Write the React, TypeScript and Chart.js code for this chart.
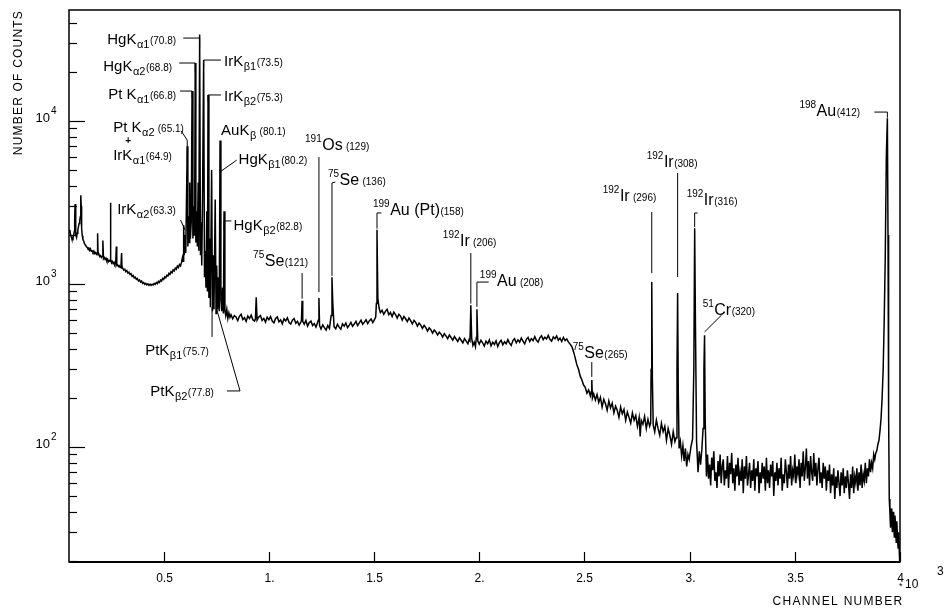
import React, { useEffect, useRef } from "react";
import { Chart, registerables } from "chart.js";

Chart.register(...registerables);

const FONT = '"Liberation Sans", Arial, Helvetica, sans-serif';

// Spectrum: [channel (x10^3), counts]
const lowEnergySpectrum: [number, number][] = [
  [0.050, 2080], [0.054, 2150], [0.057, 2020], [0.060, 1960], [0.063, 1900], [0.066, 1870], [0.069, 1920],
  [0.072, 1980], [0.075, 2100], [0.077, 2500], [0.079, 3100], [0.081, 2300], [0.083, 2000], [0.086, 1930],
  [0.089, 2050], [0.092, 2150], [0.095, 2250], [0.098, 2350], [0.101, 2450], [0.104, 2600], [0.106, 3500],
  [0.108, 3000], [0.110, 2200], [0.113, 1980], [0.116, 1880], [0.120, 1830], [0.124, 1760], [0.128, 1735],
  [0.132, 1700], [0.136, 1680], [0.140, 1650], [0.144, 1665], [0.148, 1610], [0.152, 1645], [0.156, 1590],
  [0.160, 1600], [0.164, 1565], [0.168, 1595], [0.172, 1540], [0.176, 1560], [0.180, 1525], [0.184, 1555],
  [0.186, 2050], [0.188, 1510], [0.192, 1525], [0.196, 1475], [0.200, 1495], [0.204, 1455], [0.208, 1480],
  [0.211, 1850], [0.214, 1430], [0.218, 1455], [0.222, 1415], [0.226, 1440], [0.230, 1390], [0.234, 1415],
  [0.238, 1375], [0.242, 1395], [0.245, 1380], [0.247, 3150], [0.249, 1420], [0.252, 1350], [0.256, 1375],
  [0.260, 1335], [0.264, 1360], [0.268, 1315], [0.272, 1340], [0.275, 1700], [0.277, 1300], [0.281, 1310],
  [0.285, 1280], [0.289, 1295], [0.293, 1262], [0.297, 1285], [0.300, 1550], [0.302, 1250], [0.305, 1255],
  [0.310, 1218], [0.315, 1232], [0.320, 1192], [0.325, 1210], [0.330, 1168], [0.335, 1182], [0.340, 1145],
  [0.345, 1158], [0.350, 1112], [0.355, 1128], [0.360, 1090], [0.365, 1102], [0.370, 1068], [0.375, 1082],
  [0.380, 1044], [0.385, 1058], [0.390, 1028], [0.395, 1042], [0.400, 1008], [0.405, 1022], [0.410, 996],
  [0.415, 1010], [0.420, 988], [0.425, 1003], [0.430, 982], [0.435, 998], [0.440, 980], [0.445, 996],
  [0.450, 987], [0.455, 1008], [0.460, 996], [0.465, 1022], [0.470, 1006], [0.475, 1038], [0.480, 1022],
  [0.485, 1058], [0.490, 1042], [0.495, 1082], [0.500, 1066], [0.505, 1108], [0.510, 1092], [0.515, 1132],
  [0.520, 1118], [0.525, 1162], [0.530, 1146], [0.535, 1192], [0.540, 1172], [0.545, 1222], [0.550, 1202],
  [0.555, 1252], [0.560, 1232], [0.565, 1288], [0.570, 1262], [0.575, 1318], [0.580, 1292], [0.585, 1360],
];

const xRaySpectrum: [number, number][] = [
  [0.589, 1450], [0.592, 1380], [0.595, 2300], [0.598, 1500], [0.602, 2000], [0.605, 1550], [0.608, 3000],
  [0.612, 7000], [0.615, 1700], [0.618, 2600], [0.621, 1800], [0.624, 4200], [0.627, 1900], [0.631, 2400],
  [0.635, 15300], [0.639, 1900], [0.642, 3000], [0.645, 2000], [0.648, 4800], [0.650, 22700], [0.653, 1800],
  [0.657, 2800], [0.660, 1700], [0.664, 4200], [0.667, 1600], [0.671, 34000], [0.675, 1500], [0.678, 2400],
  [0.681, 1300], [0.685, 3600], [0.690, 23700], [0.694, 1100], [0.698, 1600], [0.701, 950], [0.705, 2800],
  [0.708, 900], [0.711, 14450], [0.715, 820], [0.719, 1900], [0.722, 720], [0.728, 5000], [0.732, 680],
  [0.736, 1500], [0.739, 700], [0.745, 3300], [0.749, 660], [0.752, 1300], [0.756, 700], [0.760, 1100],
  [0.764, 680], [0.768, 7600], [0.772, 800], [0.776, 680], [0.780, 950], [0.784, 660], [0.787, 2800],
  [0.791, 690], [0.795, 640], [0.800, 700], [0.805, 615], [0.810, 665], [0.815, 625],
];

const midSpectrum: [number, number][] = [
  [0.820, 648], [0.828, 612], [0.836, 640], [0.844, 628], [0.852, 596], [0.860, 634], [0.868, 652],
  [0.876, 606], [0.884, 622], [0.892, 590], [0.900, 636], [0.908, 614], [0.916, 644], [0.924, 604],
  [0.932, 592], [0.936, 610], [0.940, 830], [0.944, 600], [0.952, 628], [0.960, 640], [0.968, 598],
  [0.976, 616], [0.984, 584], [0.992, 626], [1.000, 604], [1.008, 632], [1.016, 592], [1.024, 578],
  [1.032, 614], [1.040, 628], [1.048, 586], [1.056, 602], [1.064, 570], [1.072, 612], [1.080, 594],
  [1.088, 620], [1.096, 580], [1.104, 568], [1.112, 600], [1.120, 614], [1.128, 574], [1.136, 590],
  [1.144, 560], [1.152, 584], [1.155, 600], [1.158, 790], [1.161, 590], [1.168, 566], [1.176, 598],
  [1.184, 552], [1.192, 580], [1.200, 592], [1.208, 556], [1.216, 572], [1.224, 544], [1.232, 582],
  [1.235, 600], [1.238, 820], [1.241, 556], [1.248, 530], [1.256, 562], [1.264, 540], [1.272, 522],
  [1.280, 556], [1.288, 534], [1.296, 640], [1.300, 1100], [1.304, 760], [1.310, 548], [1.318, 532],
  [1.326, 566], [1.334, 544], [1.342, 528], [1.350, 570], [1.358, 552], [1.366, 576], [1.374, 540],
  [1.382, 560], [1.390, 582], [1.398, 550], [1.406, 568], [1.414, 590], [1.422, 556], [1.430, 578],
  [1.438, 600], [1.446, 566], [1.454, 584], [1.462, 604], [1.470, 572], [1.478, 596], [1.486, 610],
  [1.494, 580], [1.502, 604], [1.508, 630], [1.511, 760], [1.514, 2150], [1.518, 820], [1.524, 712],
  [1.530, 668],
];

const plateauSpectrum: [number, number][] = [
  [1.538, 690], [1.546, 652], [1.554, 680], [1.562, 700], [1.570, 648], [1.578, 668], [1.586, 632],
  [1.594, 672], [1.602, 650], [1.610, 618], [1.618, 652], [1.626, 636], [1.634, 600], [1.642, 632],
  [1.650, 612], [1.658, 588], [1.666, 618], [1.674, 596], [1.682, 570], [1.690, 598], [1.698, 582],
  [1.706, 552], [1.714, 576], [1.722, 560], [1.730, 534], [1.738, 558], [1.746, 540], [1.754, 514],
  [1.762, 538], [1.770, 524], [1.778, 500], [1.786, 522], [1.794, 508], [1.802, 486], [1.810, 506],
  [1.818, 494], [1.826, 472], [1.834, 496], [1.842, 480], [1.850, 462], [1.858, 486], [1.866, 470],
  [1.874, 452], [1.882, 476], [1.890, 460], [1.898, 444], [1.906, 468], [1.914, 452], [1.922, 436],
  [1.930, 462], [1.938, 446], [1.946, 430], [1.952, 456], [1.956, 448], [1.960, 740], [1.964, 466],
  [1.970, 420], [1.976, 440], [1.982, 412], [1.986, 470], [1.989, 700], [1.993, 448], [2.000, 428],
  [2.008, 452], [2.016, 436], [2.024, 416], [2.032, 446], [2.040, 430], [2.048, 454], [2.056, 418],
  [2.064, 440], [2.072, 426], [2.080, 448], [2.088, 414], [2.096, 438], [2.104, 452], [2.112, 424],
  [2.120, 442], [2.128, 430], [2.136, 456], [2.144, 434], [2.152, 420], [2.160, 450], [2.168, 462],
  [2.176, 436], [2.184, 454], [2.192, 440], [2.200, 466], [2.208, 446], [2.216, 430], [2.224, 458],
  [2.232, 470], [2.240, 444], [2.248, 462], [2.256, 450], [2.264, 476], [2.272, 452], [2.280, 440],
  [2.288, 468], [2.296, 482], [2.304, 456], [2.312, 472], [2.320, 460], [2.328, 484], [2.336, 458],
  [2.344, 446], [2.352, 474], [2.360, 462], [2.368, 480], [2.376, 452], [2.384, 466], [2.392, 444],
  [2.400, 470], [2.408, 450], [2.416, 460], [2.424, 440], [2.432, 428],
];

const highSpectrum: [number, number][] = [
  [2.440, 414], [2.448, 386], [2.456, 352], [2.464, 320], [2.472, 300], [2.480, 272], [2.488, 258],
  [2.496, 240], [2.504, 232], [2.512, 214], [2.520, 224], [2.528, 206], [2.532, 218], [2.535, 258],
  [2.538, 200], [2.544, 212], [2.552, 194], [2.560, 210], [2.568, 188], [2.576, 202], [2.584, 176],
  [2.592, 196], [2.600, 184], [2.608, 168], [2.616, 192], [2.624, 174], [2.632, 186], [2.640, 162],
  [2.648, 178], [2.656, 168], [2.664, 152], [2.672, 176], [2.680, 160], [2.688, 170], [2.696, 146],
  [2.704, 164], [2.712, 152], [2.720, 140], [2.728, 162], [2.736, 146], [2.744, 156], [2.752, 134],
  [2.760, 152], [2.765, 116], [2.770, 146], [2.778, 138], [2.786, 154], [2.794, 130], [2.802, 148],
  [2.810, 134], [2.815, 140], [2.817, 300], [2.820, 1030], [2.823, 260], [2.827, 136], [2.834, 124],
  [2.842, 146], [2.850, 130], [2.858, 118], [2.866, 140], [2.874, 124], [2.882, 134], [2.890, 110],
  [2.898, 130], [2.906, 118], [2.914, 104], [2.922, 124], [2.930, 108], [2.936, 114], [2.940, 300],
  [2.943, 880], [2.946, 220], [2.950, 98], [2.956, 108], [2.962, 88], [2.968, 102], [2.974, 82],
  [2.980, 98], [2.986, 76], [2.992, 90], [2.998, 84], [3.006, 100], [3.014, 112], [3.020, 300],
  [3.024, 2200], [3.028, 520], [3.033, 108], [3.040, 70], [3.046, 94], [3.052, 78], [3.058, 96],
  [3.064, 130], [3.068, 300], [3.071, 485], [3.074, 150], [3.080, 66],
];

const tailSpectrum: [number, number][] = [
  [3.085, 90], [3.090, 64], [3.095, 78], [3.100, 58], [3.105, 86], [3.110, 72], [3.115, 94], [3.120, 62],
  [3.125, 70], [3.130, 56], [3.135, 82], [3.140, 66], [3.145, 90], [3.150, 60], [3.155, 76], [3.160, 84],
  [3.165, 58], [3.170, 72], [3.175, 64], [3.180, 88], [3.185, 56], [3.190, 80], [3.195, 68], [3.200, 92],
  [3.205, 60], [3.210, 74], [3.215, 54], [3.220, 78], [3.225, 66], [3.230, 86], [3.235, 58], [3.240, 70],
  [3.245, 62], [3.250, 84], [3.255, 52], [3.260, 76], [3.265, 64], [3.270, 88], [3.275, 58], [3.280, 68],
  [3.285, 80], [3.290, 56], [3.295, 72], [3.300, 62], [3.305, 84], [3.310, 54], [3.315, 74], [3.320, 66],
  [3.325, 82], [3.330, 52], [3.335, 70], [3.340, 60], [3.345, 80], [3.350, 64], [3.355, 76], [3.360, 54],
  [3.365, 86], [3.370, 60], [3.375, 72], [3.380, 56], [3.385, 78], [3.390, 66], [3.395, 82], [3.400, 50],
  [3.405, 70], [3.410, 62], [3.415, 80], [3.420, 58], [3.425, 74], [3.430, 64], [3.435, 86], [3.440, 54],
  [3.445, 68], [3.450, 60], [3.455, 84], [3.460, 70], [3.465, 56], [3.470, 78], [3.475, 64], [3.480, 88],
  [3.485, 58], [3.490, 72], [3.495, 66], [3.500, 90], [3.505, 60], [3.510, 76], [3.515, 68], [3.520, 84],
  [3.525, 56], [3.530, 80], [3.535, 66], [3.540, 94], [3.545, 62], [3.550, 74], [3.555, 98], [3.560, 64],
  [3.565, 82], [3.570, 58], [3.575, 88], [3.580, 70], [3.585, 62], [3.590, 92], [3.595, 66], [3.600, 80],
  [3.605, 58], [3.610, 74], [3.615, 86], [3.620, 60], [3.625, 70], [3.630, 56], [3.635, 80], [3.640, 64],
  [3.645, 76], [3.650, 54], [3.655, 72], [3.660, 62], [3.665, 78], [3.670, 52], [3.675, 68], [3.680, 58],
  [3.685, 74], [3.690, 48], [3.695, 66], [3.700, 56], [3.705, 72], [3.710, 60], [3.715, 50], [3.720, 70],
  [3.725, 58], [3.730, 74], [3.735, 52], [3.740, 66], [3.745, 56], [3.750, 72], [3.755, 60], [3.760, 48],
  [3.765, 68], [3.770, 56], [3.775, 76], [3.780, 52], [3.785, 66], [3.790, 60], [3.795, 74], [3.800, 54],
  [3.805, 70], [3.810, 58], [3.815, 78], [3.820, 56], [3.825, 68], [3.830, 62], [3.835, 80], [3.840, 60],
  [3.845, 74], [3.850, 66], [3.855, 84], [3.860, 70], [3.865, 80], [3.870, 74], [3.875, 90], [3.880, 84],
  [3.885, 92], [3.890, 95], [3.895, 104], [3.900, 110], [3.905, 126], [3.910, 150], [3.915, 200],
  [3.920, 300], [3.925, 600], [3.930, 1500], [3.935, 6000], [3.940, 10400], [3.943, 2000], [3.946, 150],
  [3.949, 48], [3.952, 40], [3.955, 32], [3.958, 42], [3.961, 36], [3.964, 30], [3.967, 40], [3.970, 34],
  [3.973, 28], [3.976, 38], [3.979, 33], [3.982, 26], [3.985, 35], [3.988, 28], [3.991, 24], [3.994, 30],
  [3.997, 22], [4.000, 18],
];

const spectrum: [number, number][] = [
  ...lowEnergySpectrum, ...xRaySpectrum, ...midSpectrum, ...plateauSpectrum, ...highSpectrum, ...tailSpectrum,
];

const xTickValues = [0.5, 1, 1.5, 2, 2.5, 3, 3.5, 4];
const xTickLabels = ["0.5", "1.", "1.5", "2.", "2.5", "3.", "3.5", "4"];
const yDecadeValues = [100, 1000, 10000];
const yDecadeExponents = ["2", "3", "4"];

type Part = [string, "n" | "big" | "sub" | "sup" | "num"];
type Label = { parts: Part[]; at: [number, number]; leader?: [number, number][] };

// positions: [channel (x10^3), log10(counts)]
const peakLabels: Label[] = [
  { parts: [["HgK", "n"], ["α1", "sub"], ["(70.8)", "num"]], at: [0.232, 4.472], leader: [[0.593, 4.509], [0.671, 4.509], [0.671, 4.45]] },
  { parts: [["HgK", "n"], ["α2", "sub"], ["(68.8)", "num"]], at: [0.213, 4.307], leader: [[0.574, 4.356], [0.650, 4.356], [0.650, 4.3]] },
  { parts: [["Pt K", "n"], ["α1", "sub"], ["(66.8)", "num"]], at: [0.236, 4.135], leader: [[0.578, 4.184], [0.635, 4.184], [0.635, 4.14]] },
  { parts: [["Pt K", "n"], ["α2", "sub"], [" (65.1)", "num"]], at: [0.26, 3.933], leader: [[0.583, 3.94], [0.612, 3.883], [0.612, 3.75]] },
  { parts: [["IrK", "n"], ["α1", "sub"], ["(64.9)", "num"]], at: [0.26, 3.761] },
  { parts: [["IrK", "n"], ["β1", "sub"], ["(73.5)", "num"]], at: [0.787, 4.337], leader: [[0.772, 4.374], [0.690, 4.374], [0.690, 4.33]] },
  { parts: [["IrK", "n"], ["β2", "sub"], ["(75.3)", "num"]], at: [0.787, 4.123], leader: [[0.772, 4.16], [0.711, 4.16], [0.711, 4.12]] },
  { parts: [["AuK", "n"], ["β", "sub"], [" (80.1)", "num"]], at: [0.773, 3.914] },
  { parts: [["HgK", "n"], ["β1", "sub"], ["(80.2)", "num"]], at: [0.856, 3.736], leader: [[0.847, 3.76], [0.770, 3.69]] },
  { parts: [["HgK", "n"], ["β2", "sub"], ["(82.8)", "num"]], at: [0.832, 3.331], leader: [[0.822, 3.387], [0.787, 3.387], [0.787, 3.33]] },
  { parts: [["IrK", "n"], ["α2", "sub"], ["(63.3)", "num"]], at: [0.279, 3.429], leader: [[0.580, 3.393], [0.602, 3.331]] },
  { parts: [["PtK", "n"], ["β1", "sub"], ["(75.7)", "num"]], at: [0.412, 2.564], leader: [[0.730, 2.859], [0.730, 2.675]] },
  { parts: [["PtK", "n"], ["β2", "sub"], ["(77.8)", "num"]], at: [0.436, 2.313], leader: [[0.801, 2.344], [0.863, 2.344], [0.749, 2.859]] },
  { parts: [["75", "sup"], ["Se", "big"], ["(121)", "num"]], at: [0.925, 3.11], leader: [[1.158, 3.067], [1.158, 2.91]] },
  { parts: [["191", "sup"], ["Os", "big"], [" (129)", "num"]], at: [1.172, 3.822], leader: [[1.238, 3.779], [1.238, 2.95]] },
  { parts: [["75", "sup"], ["Se", "big"], [" (136)", "num"]], at: [1.281, 3.607], leader: [[1.316, 3.626], [1.300, 3.62], [1.300, 3.05]] },
  { parts: [["199", "sup"], ["Au (Pt)", "big"], ["(158)", "num"]], at: [1.495, 3.423], leader: [[1.535, 3.436], [1.514, 3.436], [1.514, 3.34]] },
  { parts: [["192", "sup"], ["Ir", "big"], [" (206)", "num"]], at: [1.827, 3.233], leader: [[1.960, 3.19], [1.960, 2.88]] },
  { parts: [["199", "sup"], ["Au", "big"], [" (208)", "num"]], at: [2.003, 2.988], leader: [[2.045, 3.012], [1.989, 3.012], [1.989, 2.86]] },
  { parts: [["75", "sup"], ["Se", "big"], ["(265)", "num"]], at: [2.444, 2.546], leader: [[2.535, 2.521], [2.535, 2.43]] },
  { parts: [["192", "sup"], ["Ir", "big"], [" (296)", "num"]], at: [2.587, 3.509], leader: [[2.820, 3.442], [2.820, 3.067]] },
  { parts: [["192", "sup"], ["Ir", "big"], ["(308)", "num"]], at: [2.796, 3.718], leader: [[2.943, 3.681], [2.943, 3.043]] },
  { parts: [["192", "sup"], ["Ir", "big"], ["(316)", "num"]], at: [2.986, 3.485], leader: [[3.038, 3.436], [3.024, 3.436], [3.024, 3.35]] },
  { parts: [["51", "sup"], ["Cr", "big"], ["(320)", "num"]], at: [3.062, 2.81], leader: [[3.152, 2.81], [3.071, 2.706]] },
  { parts: [["198", "sup"], ["Au", "big"], ["(412)", "num"]], at: [3.522, 4.031], leader: [[3.878, 4.055], [3.940, 4.055], [3.940, 4.02]] },
];

const plusMark: [number, number] = [0.331, 3.86];

const STYLE: Record<string, { size: number; dy: number }> = {
  n: { size: 15, dy: 0 },
  big: { size: 16, dy: 0 },
  sub: { size: 11, dy: 4 },
  sup: { size: 10, dy: -8 },
  num: { size: 10, dy: 0 },
};

const decor = {
  id: "decor",
  afterDraw(chart: any) {
    const { ctx, chartArea: a, scales } = chart;
    const xs = scales.x;
    const ys = scales.y;
    const px = (v: number) => xs.getPixelForValue(v);
    const py = (lv: number) => ys.getPixelForValue(Math.pow(10, lv));
    ctx.save();
    ctx.strokeStyle = "#000";
    ctx.fillStyle = "#000";
    // frame
    ctx.lineWidth = 1.5;
    ctx.strokeRect(a.left, a.top, a.right - a.left, a.bottom - a.top);
    ctx.lineWidth = 2;
    ctx.beginPath();
    ctx.moveTo(a.left, a.bottom);
    ctx.lineTo(a.right, a.bottom);
    ctx.stroke();
    // y ticks
    ctx.lineWidth = 1.2;
    for (let e = 1; e <= 4; e++) {
      for (let m = 1; m <= 9; m++) {
        const v = m * Math.pow(10, e);
        if (v < ys.min || v > ys.max) continue;
        const y = Math.round(ys.getPixelForValue(v)) + 0.5;
        ctx.beginPath();
        ctx.moveTo(a.left, y);
        ctx.lineTo(a.left + (m === 1 ? 16 : 8), y);
        ctx.stroke();
      }
    }
    // y labels
    ctx.textBaseline = "alphabetic";
    yDecadeValues.forEach((v, i) => {
      const y = ys.getPixelForValue(v);
      ctx.font = `13px ${FONT}`;
      ctx.textAlign = "right";
      ctx.fillText("10", 50, y + 1);
      ctx.font = `10px ${FONT}`;
      ctx.textAlign = "left";
      ctx.fillText(yDecadeExponents[i], 51, y - 7);
    });
    // x ticks and labels
    xTickValues.forEach((v, i) => {
      const x = Math.round(px(v)) + 0.5;
      ctx.beginPath();
      ctx.moveTo(x, a.bottom);
      ctx.lineTo(x, a.bottom - 10);
      ctx.stroke();
      ctx.font = `12px ${FONT}`;
      ctx.textAlign = "center";
      ctx.fillText(xTickLabels[i], x, a.bottom + 20);
    });
    // x10^3 multiplier
    ctx.textAlign = "left";
    ctx.font = `9px ${FONT}`;
    ctx.fillText("*", px(4) - 1, a.bottom + 27);
    ctx.font = `12px ${FONT}`;
    ctx.fillText("10", px(4) + 5, a.bottom + 26);
    ctx.fillText("3", px(4) + 37, a.bottom + 13);
    // axis titles
    ctx.save();
    ctx.font = `12px ${FONT}`;
    ctx.textAlign = "center";
    (ctx as any).letterSpacing = "1.3px";
    ctx.fillText("CHANNEL NUMBER", 838, 605);
    ctx.restore();
    ctx.save();
    ctx.translate(22, 10);
    ctx.rotate(-Math.PI / 2);
    ctx.textAlign = "right";
    ctx.font = `12px ${FONT}`;
    (ctx as any).letterSpacing = "1.2px";
    ctx.fillText("NUMBER OF COUNTS", 0, 0);
    ctx.restore();
    // peak labels
    ctx.lineWidth = 1;
    ctx.textAlign = "left";
    peakLabels.forEach((lab) => {
      let cx = px(lab.at[0]);
      const by = py(lab.at[1]);
      lab.parts.forEach(([t, k]) => {
        const st = STYLE[k];
        ctx.font = `${st.size}px ${FONT}`;
        ctx.fillText(t, cx, by + st.dy);
        cx += ctx.measureText(t).width + 0.5;
      });
      if (lab.leader) {
        ctx.beginPath();
        lab.leader.forEach(([lx, ly], j) => {
          const X = px(lx);
          const Y = py(ly);
          if (j === 0) ctx.moveTo(X, Y);
          else ctx.lineTo(X, Y);
        });
        ctx.stroke();
      }
    });
    ctx.font = `bold 10px ${FONT}`;
    ctx.textAlign = "center";
    ctx.fillText("+", px(plusMark[0]), py(plusMark[1]));
    ctx.restore();
  },
};

export default function App() {
  const ref = useRef<HTMLCanvasElement | null>(null);
  useEffect(() => {
    if (!ref.current) return;
    const chart = new Chart(ref.current, {
      type: "line",
      data: {
        datasets: [
          {
            data: spectrum.map(([c, n]) => ({ x: c, y: n })),
            borderColor: "#000",
            borderWidth: 1.5,
            pointRadius: 0,
            tension: 0,
            fill: false,
          },
        ],
      },
      options: {
        animation: false,
        responsive: false,
        maintainAspectRatio: false,
        layout: { padding: { top: 10, right: 46, left: 0, bottom: 0 } },
        plugins: { legend: { display: false }, tooltip: { enabled: false }, title: { display: false } },
        scales: {
          x: {
            type: "linear",
            min: 0.05,
            max: 4.0,
            grid: { display: false },
            border: { display: false },
            ticks: { display: false },
            afterFit: (s: any) => {
              s.height = 46;
            },
          },
          y: {
            type: "logarithmic",
            min: 19.7,
            max: 48000,
            grid: { display: false },
            border: { display: false },
            ticks: { display: false },
            afterFit: (s: any) => {
              s.width = 69;
            },
          },
        },
      } as any,
      plugins: [decor],
    });
    return () => chart.destroy();
  }, []);
  return (
    <div style={{ position: "absolute", left: 0, top: 0, width: 946, height: 608, background: "#fff" }}>
      <canvas ref={ref} width={946} height={608} style={{ display: "block" }} />
    </div>
  );
}
